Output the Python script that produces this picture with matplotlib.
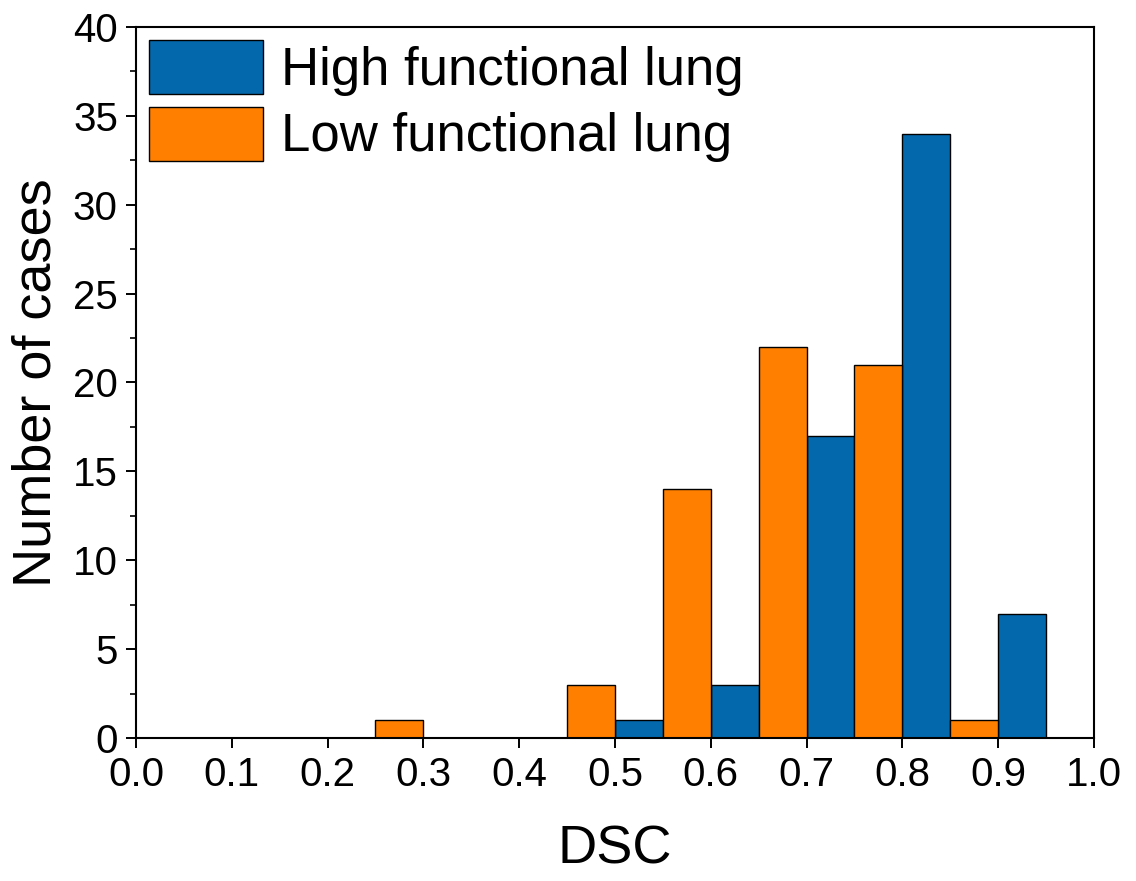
import numpy as np
import matplotlib
matplotlib.use("Agg")
import matplotlib.pyplot as plt
from matplotlib.ticker import MultipleLocator

plt.rcParams['font.family'] = ['Liberation Sans', 'DejaVu Sans']

# histogram counts, bins 0.05 wide (left edges)
high_left = [0.50, 0.60, 0.70, 0.80, 0.90]
high_counts = [1, 3, 17, 34, 7]
low_left = [0.25, 0.45, 0.55, 0.65, 0.75, 0.85]
low_counts = [1, 3, 14, 22, 21, 1]
bin_width = 0.05

labels = ["High functional lung", "Low functional lung"]
colors = ["#0369AC", "#FF7F00"]

fig = plt.figure(figsize=(11.36, 8.81), dpi=100)
ax = fig.add_axes([0.1197, 0.1623, 0.8433, 0.8071])

ax.bar(high_left, high_counts, width=bin_width, align='edge', color=colors[0],
       edgecolor='black', linewidth=1.0, label=labels[0])
ax.bar(low_left, low_counts, width=bin_width, align='edge', color=colors[1],
       edgecolor='black', linewidth=1.0, label=labels[1])

ax.set_xlim(0, 1.0)
ax.set_ylim(0, 40)
ax.yaxis.set_major_locator(MultipleLocator(5))
ax.yaxis.set_minor_locator(MultipleLocator(2.5))
ticks = np.arange(0, 1.01, 0.1)
ax.set_xticks(ticks)
ax.set_xticklabels([f"{v:.1f}" for v in ticks])

ax.tick_params(axis='both', which='major', direction='out', length=7, width=1.4,
               labelsize=29, pad=6)
ax.tick_params(axis='y', which='minor', direction='out', length=4, width=1.2)
ax.tick_params(top=False, right=False)
for sp in ax.spines.values():
    sp.set_linewidth(1.5)

ax.set_xlabel("DSC", fontsize=39, labelpad=22)
ax.set_ylabel("Number of cases", fontsize=39, labelpad=8)

ax.legend(loc='upper left', fontsize=38, frameon=False, handlelength=2.15,
          handleheight=1.2, labelspacing=0.2, handletextpad=0.35,
          borderaxespad=0.1, borderpad=0.15)

fig.savefig("out.png", dpi=100)
